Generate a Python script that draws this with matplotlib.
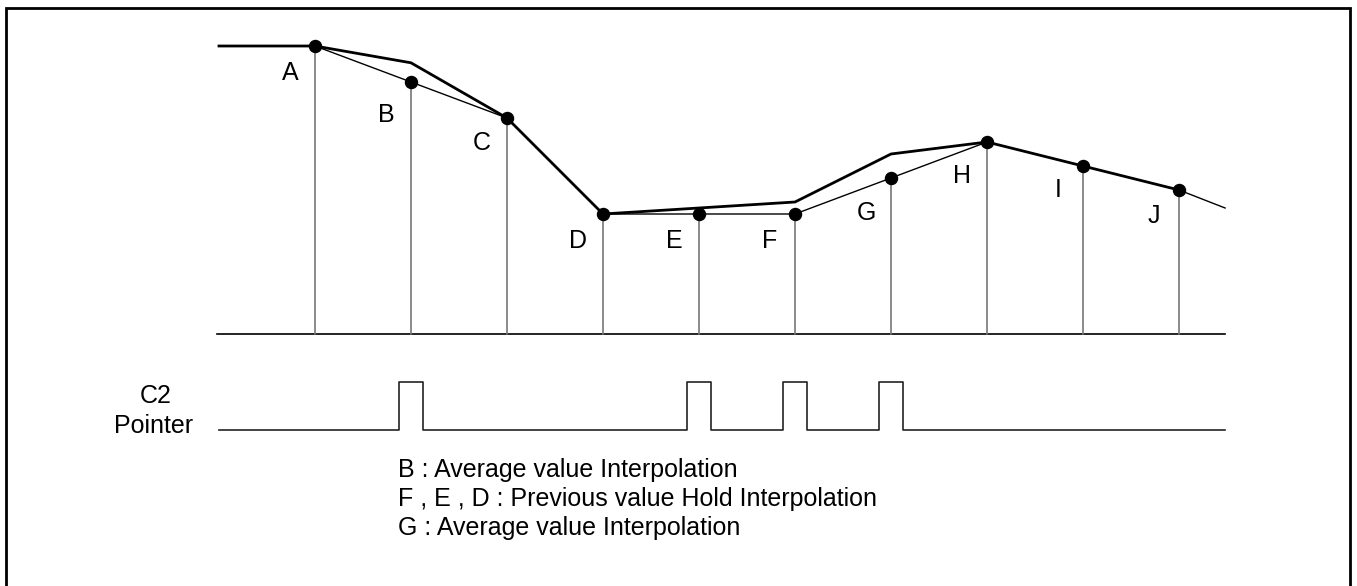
import matplotlib.pyplot as plt
from matplotlib.patches import Rectangle

plt.rcParams['font.family'] = ['Liberation Sans', 'DejaVu Sans']

# sampled points A..J (x = sample index, y = value)
labels = ['A', 'B', 'C', 'D', 'E', 'F', 'G', 'H', 'I', 'J']
xs = [1, 2, 3, 4, 5, 6, 7, 8, 9, 10]
ys = [12, 10.5, 9, 5, 5, 5, 6.5, 8, 7, 6]

# original signal (thick line)
orig_x = [0, 1, 2, 3, 4, 6, 7, 8, 9, 10]
orig_y = [12, 12, 11.3, 9, 5, 5.5, 7.5, 8, 7, 6]
tail_x = [10, 10.48]
tail_y = [6, 5.25]

# interpolated segments (thin line)
interp_a = [0, 1, 2]        # A-B-C
interp_b = [3, 4, 5, 6, 7]  # D-E-F-G-H

# label offsets in pixels (downward)
label_dy = [27, 33, 25, 27, 27, 27, 35, 34, 24, 26]

# C2 pointer pulses at these sample indices
pulse_at = [2, 5, 6, 7]
pulse_lo, pulse_hi = -4, -2
pulse_half = 0.125

notes = ['B : Average value Interpolation',
         'F , E , D : Previous value Hold Interpolation',
         'G : Average value Interpolation']

W, H = 1357, 586
fig = plt.figure(figsize=(W / 100, H / 100), dpi=100)
ax = fig.add_axes([0, 0, 1, 1])
px_x, px_y = 96, 24
ax.set_xlim(-219 / px_x, (W - 219) / px_x)
ax.set_ylim(-(H - 334) / px_y, 334 / px_y)
ax.axis('off')

def px2x(p):
    return (p - 219) / px_x

def px2y(p):
    return (334 - p) / px_y

# border (bottom edge runs off the picture)
fig.patches.append(Rectangle((6 / W, -0.05), (1350 - 6) / W, 1.05 - 8 / H,
                             transform=fig.transFigure, fill=False,
                             edgecolor='black', linewidth=2))

# baseline
ax.plot([-0.02, 10.48], [0, 0], color='black', linewidth=1.2)

# verticals
for x, y in zip(xs, ys):
    ax.plot([x, x], [0, y], color='#777777', linewidth=1.2)

ax.plot(orig_x, orig_y, color='black', linewidth=2)
ax.plot(tail_x, tail_y, color='black', linewidth=1)
ax.plot([xs[i] for i in interp_a], [ys[i] for i in interp_a], color='black', linewidth=1)
ax.plot([xs[i] for i in interp_b], [ys[i] for i in interp_b], color='black', linewidth=1)
ax.scatter(xs, ys, s=75, color='black', zorder=5)

for lab, x, y, dy in zip(labels, xs, ys, label_dy):
    ax.annotate(lab, (x, y), xytext=(-25, -dy), textcoords='offset pixels',
                ha='center', va='center', fontsize=18)

# pointer waveform
px = [0]
py = [pulse_lo]
for p in pulse_at:
    px += [p - pulse_half, p - pulse_half, p + pulse_half, p + pulse_half]
    py += [pulse_lo, pulse_hi, pulse_hi, pulse_lo]
px.append(10.48)
py.append(pulse_lo)
ax.plot(px, py, color='#222222', linewidth=1.2)

ax.text(px2x(156), px2y(396), 'C2', ha='center', va='center', fontsize=18)
ax.text(px2x(154), px2y(426), 'Pointer', ha='center', va='center', fontsize=18)

for i, line in enumerate(notes):
    ax.text(px2x(398), px2y(470 + i * 29), line, ha='left', va='center', fontsize=18)

fig.savefig('out.png', dpi=100)
